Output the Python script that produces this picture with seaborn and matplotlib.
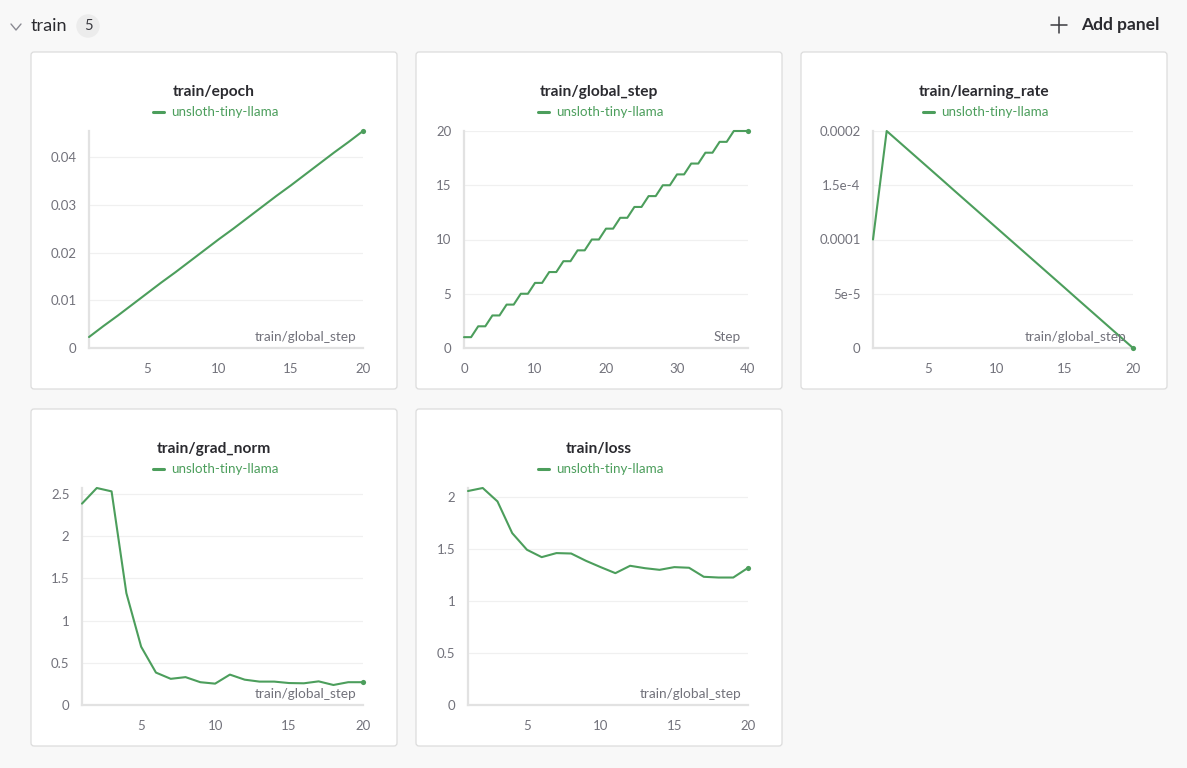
import matplotlib
matplotlib.use("Agg")
import matplotlib.pyplot as plt
from matplotlib.patches import FancyBboxPatch, Circle
from matplotlib.lines import Line2D
from matplotlib.transforms import Affine2D
import pandas as pd
import seaborn as sns

# --- Data ---
RUN = "unsloth-tiny-llama"

steps = list(range(1, 21))
epoch = [0.0023, 0.0046, 0.0068, 0.0091, 0.0114, 0.0137, 0.0159, 0.0182, 0.0205, 0.0228,
         0.0250, 0.0273, 0.0296, 0.0319, 0.0341, 0.0364, 0.0387, 0.0410, 0.0432, 0.0455]

log_step = list(range(0, 41))
global_step = [1, 1, 2, 2, 3, 3, 4, 4, 5, 5, 6, 6, 7, 7, 8, 8, 9, 9, 10, 10,
               11, 11, 12, 12, 13, 13, 14, 14, 15, 15, 16, 16, 17, 17, 18, 18, 19, 19, 20, 20, 20]

learning_rate = [1.0e-4, 2.0e-4, 1.889e-4, 1.778e-4, 1.667e-4, 1.556e-4, 1.444e-4, 1.333e-4,
                 1.222e-4, 1.111e-4, 1.0e-4, 8.89e-5, 7.78e-5, 6.67e-5, 5.56e-5, 4.44e-5,
                 3.33e-5, 2.22e-5, 1.11e-5, 0.0]

grad_norm = [2.385, 2.57, 2.53, 1.325, 0.69, 0.384, 0.31, 0.33, 0.27, 0.253,
             0.36, 0.30, 0.277, 0.277, 0.26, 0.257, 0.28, 0.237, 0.27, 0.27]

loss = [2.058, 2.087, 1.958, 1.653, 1.493, 1.422, 1.461, 1.457, 1.387, 1.326,
        1.268, 1.339, 1.316, 1.30, 1.326, 1.32, 1.233, 1.226, 1.226, 1.319]

# --- Style ---
W, H = 1187, 768
BG = "#f8f8f8"
GREEN = "#4c9e5c"
TICK = "#72727b"
AXLINE = "#e2e2e2"
GRID = "#f0f0f0"

sns.set_theme(style="white")
plt.rcParams["font.family"] = ["Lato", "DejaVu Sans"]

fig = plt.figure(figsize=(W / 100, H / 100), dpi=100, facecolor=BG)
px = Affine2D().scale(1, -1).translate(0, H)  # pixel coords, origin top-left


def fx(x):
    return x / W


def fy(y):
    return 1 - y / H


# --- Header ---
fig.add_artist(Line2D([11, 16, 21], [24, 30, 24], transform=px, color="#8a8a92", lw=1.0))
fig.text(fx(31), fy(26), "train", fontsize=13, color="#2b2b30", va="center", ha="left")
fig.add_artist(Circle((88, 26), 11, transform=px, color="#ececec", zorder=1))
fig.text(fx(88), fy(26), "5", fontsize=10.5, color="#3a3a40", va="center", ha="center", zorder=2)
fig.add_artist(Line2D([1051, 1067], [25, 25], transform=px, color="#3a3a40", lw=1.1))
fig.add_artist(Line2D([1059, 1059], [17, 33], transform=px, color="#3a3a40", lw=1.1))
fig.text(fx(1081), fy(25), "Add panel", fontsize=12.5, fontweight="bold", color="#2b2b30",
         va="center", ha="left")

panels = [
    # title, box (l, t, r, b), axes (l, t, r, b), df, xticks, yticks, yticklabels, xlabel
    ("train/epoch", (31, 52, 397, 389), (89, 131, 363, 348),
     pd.DataFrame({"x": steps, "y": epoch}), [5, 10, 15, 20],
     [0, 0.01, 0.02, 0.03, 0.04], ["0", "0.01", "0.02", "0.03", "0.04"], "train/global_step"),
    ("train/global_step", (416, 52, 782, 389), (464, 131, 748, 348),
     pd.DataFrame({"x": log_step, "y": global_step}), [0, 10, 20, 30, 40],
     [0, 5, 10, 15, 20], ["0", "5", "10", "15", "20"], "Step"),
    ("train/learning_rate", (801, 52, 1167, 389), (873, 131, 1133, 348),
     pd.DataFrame({"x": steps, "y": learning_rate}), [5, 10, 15, 20],
     [0, 5e-5, 1e-4, 1.5e-4, 2e-4], ["0", "5e-5", "0.0001", "1.5e-4", "0.0002"], "train/global_step"),
    ("train/grad_norm", (31, 409, 397, 746), (82, 488, 363, 705),
     pd.DataFrame({"x": steps, "y": grad_norm}), [5, 10, 15, 20],
     [0, 0.5, 1, 1.5, 2, 2.5], ["0", "0.5", "1", "1.5", "2", "2.5"], "train/global_step"),
    ("train/loss", (416, 409, 782, 746), (468, 488, 748, 705),
     pd.DataFrame({"x": steps, "y": loss}), [5, 10, 15, 20],
     [0, 0.5, 1, 1.5, 2], ["0", "0.5", "1", "1.5", "2"], "train/global_step"),
]

for title, box, axr, df, xticks, yticks, ylabels, xlabel in panels:
    bl, bt, br, bb = box
    fig.add_artist(FancyBboxPatch((bl, bt), br - bl, bb - bt, boxstyle="round,pad=0,rounding_size=3",
                                  transform=px, facecolor="white", edgecolor="#dcdcdc", lw=0.9,
                                  zorder=0))
    cx = (bl + br) / 2
    fig.text(fx(cx), fy(bt + 40), title, fontsize=11.2, fontweight="bold", color="#2b2b30",
             ha="center", va="center")
    fig.add_artist(Line2D([cx - 61, cx - 50], [bt + 60, bt + 60], transform=px, color=GREEN, lw=2.2))
    fig.text(fx(cx - 43), fy(bt + 60), RUN, fontsize=9.6, color=GREEN, ha="left", va="center")

    al, at, ar, ab = axr
    ax = fig.add_axes([fx(al), fy(ab), fx(ar - al), (ab - at) / H])
    ax.set_facecolor("white")
    sns.lineplot(data=df, x="x", y="y", ax=ax, color=GREEN, lw=1.5, clip_on=False, zorder=3)
    last = df.iloc[-1]
    ax.scatter([last["x"]], [last["y"]], s=14, color=GREEN, clip_on=False, zorder=4, lw=0)

    ax.set_xlim(df["x"].min(), df["x"].max())
    ax.set_ylim(0, df["y"].max())
    ax.set_xticks(xticks)
    ax.set_yticks(yticks)
    ax.set_yticklabels(ylabels)
    ax.set_xlabel("")
    ax.set_ylabel("")
    for s in ["top", "right"]:
        ax.spines[s].set_visible(False)
    for s in ["left", "bottom"]:
        ax.spines[s].set_color(AXLINE)
        ax.spines[s].set_linewidth(1.6)
    ax.tick_params(axis="x", direction="in", length=6, width=1.4, color=AXLINE,
                   labelsize=9.5, labelcolor=TICK, pad=11)
    ax.tick_params(axis="y", length=0, labelsize=9.5, labelcolor=TICK, pad=9)
    ax.grid(axis="y", color=GRID, lw=0.9)
    ax.grid(axis="x", visible=False)
    ax.set_axisbelow(True)
    ax.annotate(xlabel, xy=(1, 0), xycoords="axes fraction", xytext=(-7, 11),
                textcoords="offset pixels", ha="right", va="center", fontsize=9.8, color=TICK)

fig.savefig("out.png", dpi=100, facecolor=BG)
